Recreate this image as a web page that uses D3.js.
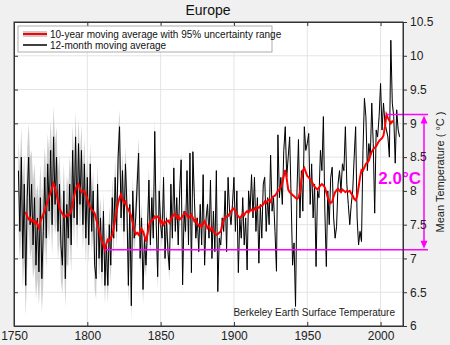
<!DOCTYPE html>
<html><head><meta charset="utf-8">
<script src="https://cdn.jsdelivr.net/npm/d3@7"></script>
<style>html,body{margin:0;padding:0;background:#f0f0f0;}svg{display:block;font-family:"Liberation Sans",Arial,sans-serif;}</style>
</head><body><svg id="c" width="450" height="345"></svg>
<script>
// 12-month moving average (annual samples), starting 1753
const blackStart = 1753;
const blackValues = [
 8.3,7.4,8.5,7.0,8.1,6.6,7.9,
 8.5,7.5,8.1,7.2,7.9,6.9,7.6,6.8,7.9,6.7,
 7.4,8.2,7.3,8.4,7.7,8.6,7.5,8.8,7.8,8.5,
 7.4,8.1,7.2,6.9,8.0,6.7,7.8,7.3,8.1,7.2,
 8.6,7.6,8.8,7.5,8.7,7.8,8.6,7.5,8.4,7.3,
 8.2,7.2,8.4,7.4,8.0,6.9,6.7,8.1,7.0,7.6,
 6.8,7.7,6.6,7.2,6.6,7.5,6.9,7.9,7.3,8.2,
 7.4,8.5,8.95,7.6,8.3,7.4,8.4,7.8,6.6,7.8,
 6.3,8.0,7.3,7.6,8.1,8.56,7.0,7.6,6.54,7.3,
 6.9,7.4,8.16,7.2,7.9,7.3,8.88,7.5,6.73,8.0,
 7.5,7.3,8.2,7.0,7.6,7.1,6.83,8.1,7.3,8.34,
 7.4,7.9,7.2,8.0,8.46,6.61,7.7,7.4,8.3,7.2,
 8.56,6.79,8.58,7.9,7.3,7.6,7.1,7.8,7.2,8.24,
 6.9,7.6,7.8,7.3,8.16,7.0,7.7,7.1,8.3,6.51,
 7.3,7.2,7.6,7.4,8.0,7.1,8.2,7.7,7.5,7.8,
 8.2,7.4,8.0,6.79,7.6,7.3,7.9,7.2,7.6,6.83,
 8.0,7.7,8.24,7.6,8.2,7.4,7.9,6.93,7.8,7.3,
 8.1,8.2,7.4,7.9,7.5,8.53,7.7,7.9,7.4,6.81,
 8.83,7.9,8.2,7.8,8.6,8.95,8.2,8.5,8.8,7.9,
 6.9,7.23,6.29,8.0,8.76,7.6,8.3,7.7,8.95,8.6,
 8.7,8.85,7.8,8.4,7.6,8.1,6.88,8.0,7.9,8.6,
 8.3,9.1,7.7,6.88,8.0,7.5,8.2,8.35,7.6,7.3,
 7.47,8.1,8.3,8.0,8.4,8.3,8.95,8.1,7.8,7.5,
 7.8,8.0,8.5,8.95,7.6,7.2,7.4,7.25,8.6,9.37,
 9.1,8.3,8.7,8.5,9.3,8.7,7.67,8.9,8.8,9.1,
 9.59,8.9,9.3,9.0,8.9,8.8,8.5,10.23,9.3,9.1,
 8.41,9.2,8.9,8.8
];
// 95% uncertainty half-width per decade, starting 1750s
const uncDecadeStart = 1750;
const uncValues = [0.45,0.5,0.45,0.42,0.38,0.3,0.27,0.25,0.22,0.18,0.15,0.12,0.1,0.08,0.07,0.06,0.05,0.05,0.04,0.04,0.04,0.04,0.04,0.04,0.04,0.04,0.04];
// 10-year moving average, starting 1758
const redStart = 1758;
const redValues = [
 7.69,7.62,
 7.58,7.60,7.55,7.57,7.52,7.55,7.50,7.45,7.55,7.60,
 7.66,7.70,7.78,7.85,7.92,7.97,8.05,8.11,8.05,7.95,
 7.85,7.75,7.70,7.66,7.62,7.62,7.65,7.63,7.66,7.70,
 7.80,7.92,8.02,8.08,8.10,8.03,7.98,7.99,8.00,7.95,
 7.88,7.82,7.76,7.72,7.70,7.67,7.58,7.50,7.42,7.33,
 7.25,7.20,7.13,7.22,7.28,7.26,7.30,7.34,7.45,7.58,
 7.70,7.82,7.90,7.95,7.88,7.82,7.84,7.76,7.72,7.68,
 7.62,7.52,7.42,7.36,7.38,7.35,7.40,7.44,7.40,7.33,
 7.25,7.35,7.48,7.55,7.56,7.58,7.62,7.60,7.62,7.60,
 7.52,7.56,7.50,7.53,7.55,7.56,7.53,7.58,7.62,7.65,
 7.66,7.60,7.63,7.58,7.60,7.62,7.66,7.68,7.64,7.60,
 7.62,7.65,7.60,7.55,7.58,7.52,7.48,7.50,7.47,7.52,
 7.55,7.50,7.45,7.48,7.42,7.45,7.40,7.38,7.35,7.36,
 7.38,7.40,7.50,7.58,7.60,7.62,7.63,7.66,7.70,7.72,
 7.74,7.70,7.66,7.62,7.60,7.62,7.66,7.64,7.68,7.70,
 7.68,7.71,7.72,7.70,7.74,7.72,7.76,7.75,7.77,7.78,
 7.80,7.84,7.82,7.86,7.87,7.84,7.90,7.92,7.93,7.96,
 8.00,8.02,8.06,8.12,8.22,8.31,8.18,8.02,7.98,7.96,
 7.94,7.92,7.90,7.88,7.90,7.98,8.15,8.30,8.34,8.28,
 8.22,8.20,8.17,8.14,8.10,8.06,8.04,8.02,8.05,8.08,
 8.10,8.08,8.05,7.98,7.90,7.85,7.82,7.84,7.92,7.98,
 8.01,8.03,8.00,7.98,8.02,8.00,7.98,8.00,7.99,8.00,
 7.96,7.93,7.88,7.86,7.92,8.05,8.20,8.31,8.30,8.35,
 8.40,8.42,8.45,8.52,8.58,8.62,8.64,8.66,8.70,8.74,
 8.76,8.78,8.82,8.95,9.13,9.08,9.04,9.00,9.03,9.02
];
const xTicks = [1750,1800,1850,1900,1950,2000];
const yTicks = [6,6.5,7,7.5,8,8.5,9,9.5,10,10.5];
const legendLabels = ["10-year moving average with 95% uncertainty range","12-month moving average"];
const titleText = "Europe";
const yLabel = "Mean Temperature ( °C )";
const creditText = "Berkeley Earth Surface Temperature";
const changeLabel = "2.0°C";

const black = blackValues.map((v,i)=>({year:blackStart+i, v}));
const red = redValues.map((v,i)=>({year:redStart+i, v}));
// uncertainty envelope around the 12-month series: part of the neighbourhood range, widened by the decade's uncertainty
const band = black.map((d,i)=>{
  const u = uncValues[Math.floor((d.year-uncDecadeStart)/10)];
  const k = Math.min(0.5, u/1.0);
  const win = blackValues.slice(Math.max(0,i-1), i+2);
  const lo = d.v - u - k*(d.v - d3.min(win));
  const hi = d.v + u + k*(d3.max(win) - d.v);
  return {year:d.year, lo, hi};
});

const svg = d3.select("#c");
const L=14,R=403,T=22,B=326;
const x = d3.scaleLinear().domain([1750,2015.3]).range([L,R]);
const y = d3.scaleLinear().domain([6,10.5]).range([B,T]);

svg.append("rect").attr("x",L).attr("y",T).attr("width",R-L).attr("height",B-T).attr("fill","#fff");
// grid
const g = svg.append("g");
g.selectAll(".gx").data(xTicks.slice(1)).enter().append("line")
 .attr("x1",d=>x(d)).attr("x2",d=>x(d)).attr("y1",T).attr("y2",B).attr("stroke","#e4e4e4").attr("stroke-width",1);
g.selectAll(".gy").data(yTicks.slice(1,-1)).enter().append("line")
 .attr("x1",L).attr("x2",R).attr("y1",d=>y(d)).attr("y2",d=>y(d)).attr("stroke","#e4e4e4").attr("stroke-width",1);

svg.append("defs").append("clipPath").attr("id","pc").append("rect").attr("x",L).attr("y",T).attr("width",R-L).attr("height",B-T);
const plot = svg.append("g").attr("clip-path","url(#pc)");
plot.append("path").datum(band).attr("fill","#cccccc")
 .attr("d",d3.area().x(d=>x(d.year)).y0(d=>y(d.lo)).y1(d=>y(d.hi)));
plot.append("path").datum(black).attr("fill","none").attr("stroke","#000").attr("stroke-width",1)
 .attr("d",d3.line().x(d=>x(d.year)).y(d=>y(d.v)));
plot.append("path").datum(red).attr("fill","none").attr("stroke","#ff0000").attr("stroke-width",2)
 .attr("d",d3.line().x(d=>x(d.year)).y(d=>y(d.v)));

// magenta annotation
const minR = red.reduce((a,b)=>b.v<a.v?b:a), maxR = red.reduce((a,b)=>b.v>a.v?b:a);
const mag="#ff00ff", ax=424, xEnd=428;
svg.append("line").attr("x1",x(minR.year)).attr("x2",xEnd).attr("y1",y(minR.v)).attr("y2",y(minR.v)).attr("stroke",mag).attr("stroke-width",1.5);
svg.append("line").attr("x1",x(maxR.year)).attr("x2",xEnd).attr("y1",y(maxR.v)).attr("y2",y(maxR.v)).attr("stroke",mag).attr("stroke-width",1.5);
svg.append("line").attr("x1",ax).attr("x2",ax).attr("y1",y(maxR.v)+6).attr("y2",y(minR.v)-6).attr("stroke",mag).attr("stroke-width",1.5);
svg.append("path").attr("d",`M${ax-3.5},${y(maxR.v)+9}L${ax},${y(maxR.v)+1}L${ax+3.5},${y(maxR.v)+9}Z`).attr("fill",mag);
svg.append("path").attr("d",`M${ax-3.5},${y(minR.v)-9}L${ax},${y(minR.v)-1}L${ax+3.5},${y(minR.v)-9}Z`).attr("fill",mag);
svg.append("text").attr("x",421).attr("y",y((minR.v+maxR.v)/2)+2).attr("text-anchor","end")
 .attr("font-size",17).attr("font-weight","bold").attr("fill",mag).text(changeLabel);

// frame and axes
svg.append("rect").attr("x",L).attr("y",T).attr("width",R-L).attr("height",B-T).attr("fill","none").attr("stroke","#333").attr("stroke-width",1);
const axB = svg.append("g").attr("transform",`translate(0,${B})`).call(d3.axisBottom(x).tickValues(xTicks).tickFormat(d3.format("d")).tickSizeInner(-4).tickSizeOuter(0));
const axT = svg.append("g").attr("transform",`translate(0,${T})`).call(d3.axisTop(x).tickValues(xTicks).tickFormat("").tickSizeInner(-4).tickSizeOuter(0));
const axL = svg.append("g").attr("transform",`translate(${L},0)`).call(d3.axisLeft(y).tickValues(yTicks).tickFormat("").tickSizeInner(-4).tickSizeOuter(0));
const axR = svg.append("g").attr("transform",`translate(${R},0)`).call(d3.axisRight(y).tickValues(yTicks).tickFormat(d3.format("~g")).tickSizeInner(4).tickSizeOuter(0).tickPadding(3));
[axB,axT,axL,axR].forEach(a=>{a.select(".domain").attr("stroke","#333");a.selectAll(".tick line").attr("stroke","#333");a.selectAll("text").attr("font-size",12).attr("fill","#222").attr("font-family","Liberation Sans, Arial, sans-serif");});
axB.selectAll("text").attr("dy","0.9em");

// title & labels
svg.append("text").attr("x",208).attr("y",15).attr("text-anchor","middle").attr("font-size",14).attr("fill","#111").text(titleText);
svg.append("text").attr("transform","translate(444,172) rotate(-90)").attr("text-anchor","middle").attr("font-size",11).attr("fill","#222").text(yLabel);
svg.append("text").attr("x",395).attr("y",316).attr("text-anchor","end").attr("font-size",10).attr("fill","#222").text(creditText);

// legend
const lg = svg.append("g");
lg.append("rect").attr("x",18).attr("y",26).attr("width",254).attr("height",26).attr("fill","#fff").attr("stroke","#999").attr("stroke-width",0.8);
lg.append("line").attr("x1",23).attr("x2",47).attr("y1",34).attr("y2",34).attr("stroke","#cccccc").attr("stroke-width",6);
lg.append("line").attr("x1",23).attr("x2",47).attr("y1",34).attr("y2",34).attr("stroke","#ff0000").attr("stroke-width",2);
lg.append("line").attr("x1",23).attr("x2",47).attr("y1",45).attr("y2",45).attr("stroke","#000").attr("stroke-width",1.5);
lg.selectAll(".lt").data(legendLabels).enter().append("text").attr("x",50).attr("y",(d,i)=>37.5+i*11).attr("font-size",10).attr("fill","#111").text(d=>d);
</script></body></html>
